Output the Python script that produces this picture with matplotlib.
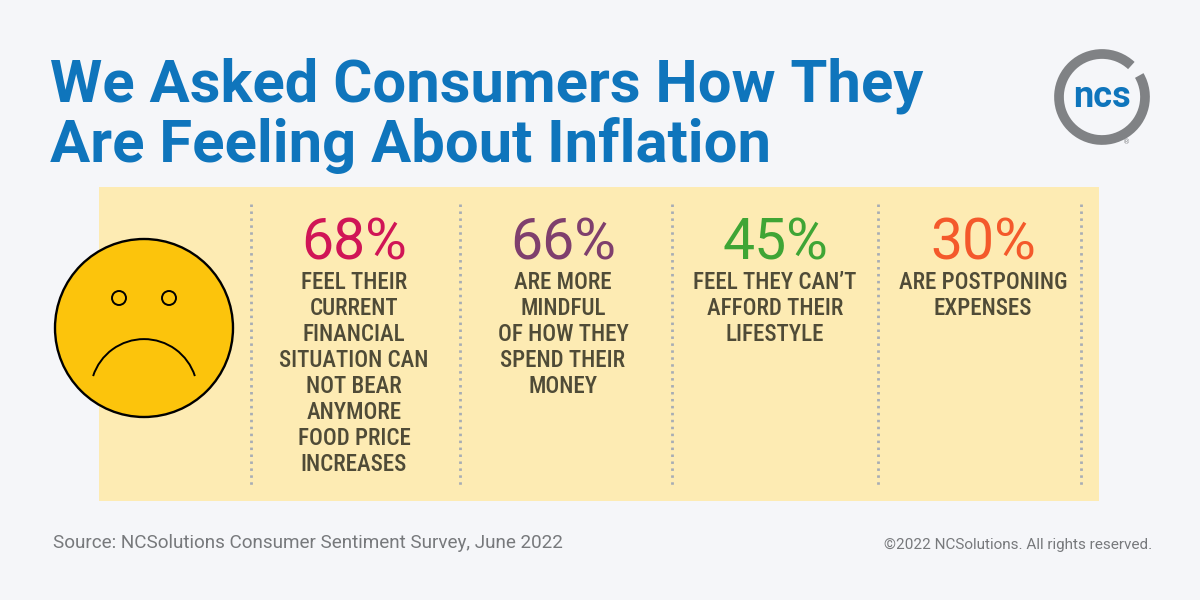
import matplotlib
matplotlib.use('Agg')
import matplotlib.pyplot as plt
from matplotlib.patches import Circle, Arc, Rectangle

title_lines = ['We Asked Consumers How They', 'Are Feeling About Inflation']
percents = [68, 66, 45, 30]
pct_colors = ['#d01556', '#7f3f6d', '#3fa535', '#f4592b']
labels = [
    ['FEEL THEIR', 'CURRENT', 'FINANCIAL', 'SITUATION CAN', 'NOT BEAR', 'ANYMORE', 'FOOD PRICE', 'INCREASES'],
    ['ARE MORE', 'MINDFUL', 'OF HOW THEY', 'SPEND THEIR', 'MONEY'],
    ['FEEL THEY CAN\u2019T', 'AFFORD THEIR', 'LIFESTYLE'],
    ['ARE POSTPONING', 'EXPENSES'],
]
col_x = [354, 563, 775, 983]
divider_x = [251, 460, 672, 878, 1081]
source = 'Source: NCSolutions Consumer Sentiment Survey, June 2022'
copyright_txt = '\u00a92022 NCSolutions. All rights reserved.'

bg = '#f5f6f9'
blue = '#0f75bc'
dark = '#4f4b37'
grey = '#808285'

fig = plt.figure(figsize=(12, 6), dpi=100, facecolor=bg)
ax = fig.add_axes([0, 0, 1, 1])
ax.set_xlim(0, 1200)
ax.set_ylim(600, 0)
ax.axis('off')

# title
for i, line in enumerate(title_lines):
    ax.text(50, 102 + i * 60, line, family='Roboto', weight='bold', fontsize=43,
            color=blue, va='baseline', ha='left')

# yellow panel
ax.add_patch(Rectangle((99, 187), 1000, 314, fc='#fdebb3', ec='none', zorder=1))

# dotted dividers
for x in divider_x:
    ax.plot([x, x], [204, 486], color='#a7adb5', lw=2, ls=(0, (0.9, 1.6)), zorder=2)

# columns
for x, p, c, lines in zip(col_x, percents, pct_colors, labels):
    ax.text(x, 260, f'{p}%', family='Roboto', weight='regular', fontsize=41, color=c,
            ha='center', va='baseline')
    for j, line in enumerate(lines):
        ax.text(x, 289 + j * 26, line, family='Roboto Condensed', weight=500, fontsize=16.6,
                color=dark, ha='center', va='baseline')

# sad face
ax.add_patch(Circle((144, 328), 89, fc='#fcc40c', ec='black', lw=1.7, zorder=3))
ax.add_patch(Circle((119, 298), 7, fc='none', ec='black', lw=1.4, zorder=4))
ax.add_patch(Circle((169, 298), 7, fc='none', ec='black', lw=1.4, zorder=4))
ax.add_patch(Arc((144, 392.6), 107, 107, theta1=198, theta2=342, ec='black', lw=1.4, zorder=4))

# logo
ax.add_patch(Arc((1102, 97), 86, 86, theta1=330, theta2=673, ec=grey, lw=7, zorder=3))
ax.text(1102, 107, 'ncs', family='Roboto', weight='bold', fontsize=26, color=blue,
        ha='center', va='baseline', zorder=4)
ax.text(1127, 142, '\u00ae', family='DejaVu Sans', fontsize=5, color=grey, ha='center', va='center')

# footer
ax.text(53, 548, source, family='Roboto', fontsize=13.55, color='#77797c', ha='left', va='baseline')
ax.text(1152, 549, copyright_txt, family='Roboto', fontsize=11, color='#77797c', ha='right', va='baseline')

fig.savefig('out.png', dpi=100, facecolor=bg)
